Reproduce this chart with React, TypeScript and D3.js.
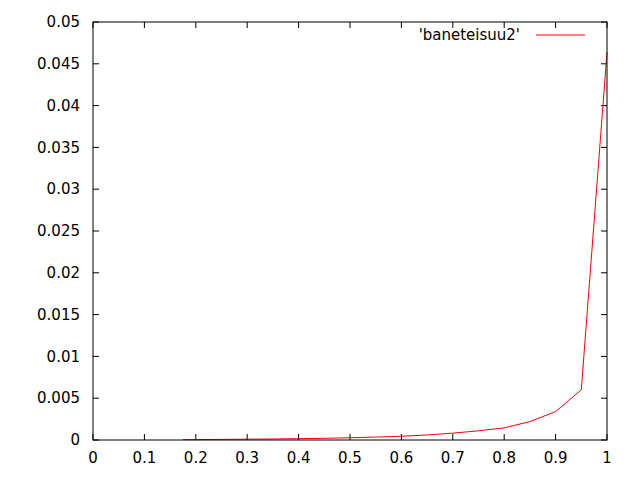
import React from "react";
import * as d3 from "d3";

// data
const xs = [0.175, 0.2, 0.25, 0.3, 0.35, 0.4, 0.45, 0.5, 0.55, 0.6, 0.65, 0.7, 0.75, 0.8, 0.85, 0.9, 0.95, 1.0];
const ys = [0.00004, 0.00005, 0.00007, 0.0001, 0.00012, 0.00016, 0.0002, 0.00027, 0.00035, 0.00045, 0.0006, 0.00082, 0.0011, 0.00145, 0.0022, 0.0034, 0.006, 0.0464];
const xTicks = [0, 0.1, 0.2, 0.3, 0.4, 0.5, 0.6, 0.7, 0.8, 0.9, 1];
const yTicks = [0, 0.005, 0.01, 0.015, 0.02, 0.025, 0.03, 0.035, 0.04, 0.045, 0.05];
const seriesName = "'baneteisuu2'";

export default function App() {
    let width = 640;
    let height = 480;
    let left = 93, right = 607, top = 22, bottom = 440;
    let tick = 6;

    let x = d3.scaleLinear().domain([0, 1]).range([left, right]);
    let y = d3.scaleLinear().domain([0, 0.05]).range([bottom, top]);

    let line = d3.line<number>()
        .x((d, i) => x(xs[i]))
        .y((d) => y(d));

    let font = "'DejaVu Sans', sans-serif";

    return (
        <svg width={width} height={height}
             style={{ position: "absolute", left: 0, top: 0, background: "#fff" }}
             fontFamily={font} fontSize={15}>
            <rect x={0} y={0} width={width} height={height} fill="#fff" />
            {yTicks.map((t) => (
                <g key={"y" + t}>
                    <line x1={left} x2={left + tick} y1={y(t)} y2={y(t)} stroke="#000" />
                    <line x1={right} x2={right - tick} y1={y(t)} y2={y(t)} stroke="#000" />
                    <text x={80} y={y(t)} dy="0.35em" textAnchor="end" fill="#000">{String(t)}</text>
                </g>
            ))}
            {xTicks.map((t) => (
                <g key={"x" + t}>
                    <line x1={x(t)} x2={x(t)} y1={bottom} y2={bottom - tick} stroke="#000" />
                    <line x1={x(t)} x2={x(t)} y1={top} y2={top + tick} stroke="#000" />
                    <text x={x(t)} y={463} textAnchor="middle" fill="#000">{String(t)}</text>
                </g>
            ))}
            <path d={line(ys) || ""} fill="none" stroke="#ff0000" strokeWidth={1} />
            <rect x={left} y={top} width={right - left} height={bottom - top} fill="none" stroke="#000" />
            <text x={520} y={35} dy="0.35em" textAnchor="end" fill="#000">{seriesName}</text>
            <line x1={536} x2={585} y1={35} y2={35} stroke="#ff0000" />
        </svg>
    );
}
